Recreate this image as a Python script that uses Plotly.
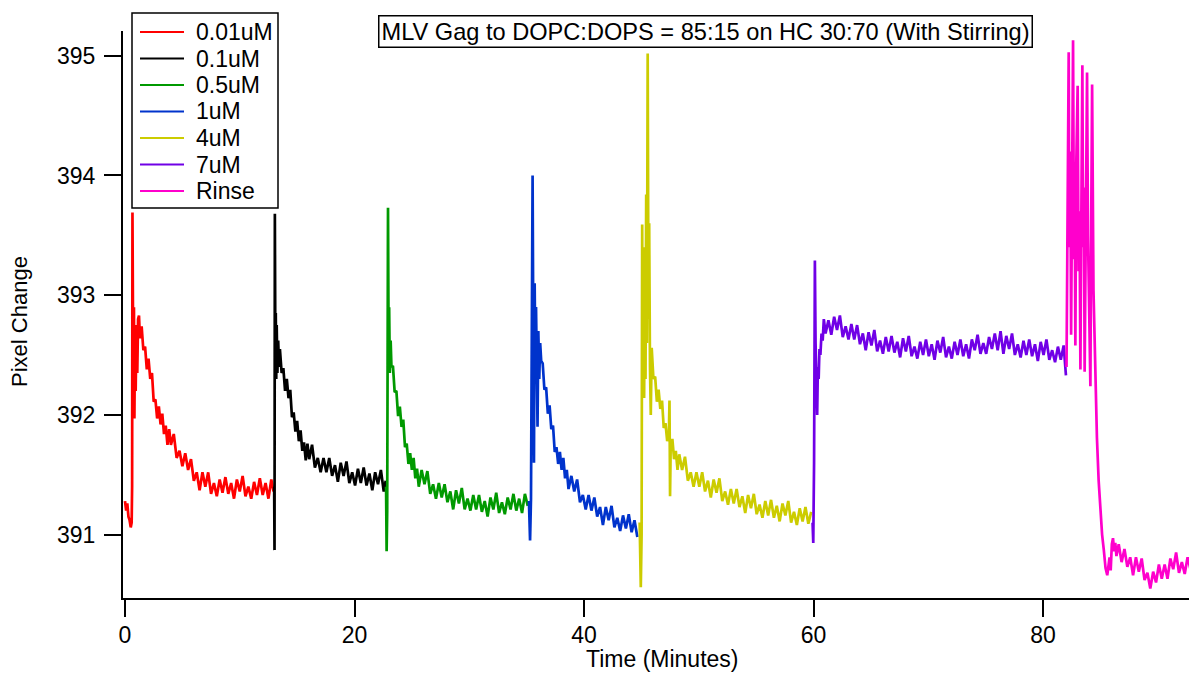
import plotly.graph_objects as go

# ---------------- data ----------------
series_names = ["0.01uM", "0.1uM", "0.5uM", "1uM", "4uM", "7uM", "Rinse"]
series_colors = ["#FF0000", "#000000", "#009900", "#0033CC", "#CCCC00", "#7000E6", "#FF00CC"]
x_ticks = [0, 20, 40, 60, 80]
y_ticks = [391, 392, 393, 394, 395]

t_001 = [0.00, 0.10, 0.20, 0.30, 0.40, 0.50, 0.58, 0.62, 0.65, 0.68, 0.71, 0.74, 0.78, 0.82, 0.87,
         0.93, 1.00, 1.07, 1.14, 1.22, 1.30, 1.45, 1.60, 1.75, 1.90, 2.05, 2.20, 2.35, 2.50, 2.65,
         2.80, 2.95, 3.10, 3.25, 3.40, 3.55, 3.70, 3.85, 4.00, 4.25, 4.50, 4.75, 5.00, 5.25, 5.50,
         5.75, 6.00, 6.25, 6.50, 6.75, 7.00, 7.25, 7.50, 7.75, 8.00, 8.25, 8.50, 8.75, 9.00, 9.25,
         9.50, 9.75, 10.00, 10.25, 10.50, 10.75, 11.00, 11.25, 11.50, 11.75, 12.00, 12.25, 12.50,
         12.75, 12.95]
y_001 = [391.28, 391.20, 391.26, 391.15, 391.12, 391.06, 391.10, 391.40, 393.69, 392.40, 393.30,
         391.98, 392.90, 391.97, 392.70, 392.20, 392.75, 392.35, 392.80, 392.83, 392.64, 392.74,
         392.54, 392.57, 392.38, 392.47, 392.30, 392.35, 392.11, 392.13, 391.97, 392.07, 391.92,
         392.01, 391.84, 391.91, 391.75, 391.88, 391.75, 391.84, 391.64, 391.70, 391.57, 391.68,
         391.54, 391.63, 391.45, 391.52, 391.37, 391.52, 391.40, 391.52, 391.34, 391.43, 391.32,
         391.46, 391.35, 391.48, 391.34, 391.43, 391.30, 391.46, 391.36, 391.49, 391.32, 391.40,
         391.30, 391.44, 391.33, 391.47, 391.33, 391.43, 391.30, 391.46, 391.36]

t_01 = [13.00, 13.03, 13.06, 13.10, 13.14, 13.18, 13.22, 13.28, 13.35, 13.42, 13.50, 13.65, 13.80,
        13.95, 14.10, 14.25, 14.40, 14.55, 14.70, 14.85, 15.00, 15.15, 15.30, 15.45, 15.60, 15.75,
        15.90, 16.05, 16.30, 16.55, 16.80, 17.05, 17.30, 17.55, 17.80, 18.05, 18.30, 18.55, 18.80,
        19.05, 19.30, 19.55, 19.80, 20.05, 20.30, 20.55, 20.80, 21.05, 21.30, 21.55, 21.80, 22.05,
        22.30, 22.55, 22.72]
y_01 = [391.40, 390.87, 393.68, 392.60, 392.85, 392.30, 392.75, 392.35, 392.62, 392.40, 392.55,
        392.35, 392.39, 392.20, 392.30, 392.14, 392.21, 391.98, 392.02, 391.86, 391.95, 391.78,
        391.87, 391.70, 391.77, 391.62, 391.76, 391.63, 391.75, 391.56, 391.64, 391.52, 391.64,
        391.52, 391.64, 391.49, 391.58, 391.44, 391.60, 391.49, 391.61, 391.43, 391.52, 391.41,
        391.55, 391.43, 391.56, 391.41, 391.51, 391.37, 391.52, 391.42, 391.54, 391.36, 391.45]

t_05 = [22.75, 22.80, 22.85, 22.92, 22.97, 23.02, 23.08, 23.15, 23.22, 23.35, 23.50, 23.65, 23.80,
        23.95, 24.10, 24.25, 24.40, 24.55, 24.70, 24.85, 25.00, 25.15, 25.30, 25.45, 25.60, 25.85,
        26.10, 26.35, 26.60, 26.85, 27.10, 27.35, 27.60, 27.85, 28.10, 28.35, 28.60, 28.85, 29.10,
        29.35, 29.60, 29.85, 30.10, 30.35, 30.60, 30.85, 31.10, 31.35, 31.60, 31.85, 32.10, 32.35,
        32.60, 32.85, 33.10, 33.35, 33.60, 33.85, 34.10, 34.35, 34.60, 34.85, 35.10]
y_05 = [391.40, 390.86, 391.20, 393.73, 392.60, 392.90, 392.35, 392.62, 392.40, 392.41, 392.19,
        392.20, 391.99, 392.07, 391.90, 391.96, 391.73, 391.76, 391.59, 391.68, 391.54, 391.64,
        391.47, 391.55, 391.40, 391.54, 391.42, 391.53, 391.34, 391.42, 391.30, 391.43, 391.31,
        391.42, 391.27, 391.36, 391.21, 391.37, 391.26, 391.39, 391.21, 391.30, 391.20, 391.33,
        391.21, 391.33, 391.19, 391.28, 391.15, 391.31, 391.21, 391.35, 391.18, 391.27, 391.17,
        391.31, 391.21, 391.34, 391.20, 391.30, 391.18, 391.34, 391.24]

t_1 = [35.20, 35.30, 35.38, 35.45, 35.52, 35.58, 35.64, 35.70, 35.76, 35.82, 35.88, 35.95, 36.02,
       36.10, 36.18, 36.27, 36.40, 36.55, 36.70, 36.85, 37.00, 37.15, 37.30, 37.45, 37.60, 37.75,
       37.90, 38.05, 38.20, 38.35, 38.50, 38.65, 38.90, 39.15, 39.40, 39.65, 39.90, 40.15, 40.40,
       40.65, 40.90, 41.15, 41.40, 41.65, 41.90, 42.15, 42.40, 42.65, 42.90, 43.15, 43.40, 43.65,
       43.90, 44.15, 44.40, 44.65]
y_1 = [391.28, 390.95, 391.30, 393.40, 394.00, 392.70, 391.60, 393.10, 392.40, 392.90, 392.10,
       391.90, 392.70, 392.30, 392.60, 392.45, 392.43, 392.21, 392.23, 392.01, 392.08, 391.88,
       391.91, 391.69, 391.73, 391.59, 391.69, 391.54, 391.64, 391.47, 391.54, 391.38, 391.49,
       391.36, 391.46, 391.27, 391.33, 391.21, 391.33, 391.20, 391.31, 391.15, 391.23, 391.08,
       391.23, 391.12, 391.24, 391.06, 391.14, 391.03, 391.16, 391.05, 391.17, 391.02, 391.12,
       390.98]

t_4 = [44.85, 44.95, 45.02, 45.07, 45.12, 45.18, 45.24, 45.30, 45.36, 45.42, 45.48, 45.55, 45.62,
       45.68, 45.75, 45.82, 45.90, 46.05, 46.20, 46.35, 46.50, 46.65, 46.80, 46.95, 47.10, 47.25,
       47.40, 47.45, 47.50, 47.55, 47.70, 47.85, 48.00, 48.15, 48.30, 48.55, 48.80, 49.05, 49.30,
       49.55, 49.80, 50.05, 50.30, 50.55, 50.80, 51.05, 51.30, 51.55, 51.80, 52.05, 52.30, 52.55,
       52.80, 53.05, 53.30, 53.55, 53.80, 54.05, 54.30, 54.55, 54.80, 55.05, 55.30, 55.55, 55.80,
       56.05, 56.30, 56.55, 56.80, 57.05, 57.30, 57.55, 57.80, 58.05, 58.30, 58.55, 58.80, 59.05,
       59.30, 59.55, 59.80]
y_4 = [391.10, 390.56, 391.00, 393.59, 392.20, 393.40, 392.14, 393.20, 392.30, 393.84, 392.60,
       395.02, 392.80, 393.60, 392.40, 392.00, 392.56, 392.30, 392.32, 392.11, 392.21, 392.05,
       392.12, 391.89, 391.93, 391.78, 391.86, 392.12, 391.32, 391.71, 391.80, 391.63, 391.70,
       391.54, 391.67, 391.54, 391.65, 391.45, 391.52, 391.40, 391.52, 391.40, 391.52, 391.36,
       391.45, 391.31, 391.46, 391.35, 391.47, 391.28, 391.36, 391.25, 391.38, 391.26, 391.38,
       391.23, 391.32, 391.18, 391.33, 391.22, 391.34, 391.17, 391.25, 391.14, 391.28, 391.16,
       391.29, 391.14, 391.24, 391.11, 391.26, 391.16, 391.28, 391.10, 391.19, 391.08, 391.22,
       391.11, 391.23, 391.09, 391.19]

t_7 = [59.92, 59.98, 60.05, 60.12, 60.18, 60.25, 60.32, 60.38, 60.45, 60.52, 60.60, 60.70, 60.80,
       60.90, 61.05, 61.30, 61.55, 61.80, 62.05, 62.30, 62.55, 62.80, 63.05, 63.30, 63.55, 63.80,
       64.05, 64.30, 64.55, 64.80, 65.05, 65.30, 65.55, 65.80, 66.05, 66.30, 66.55, 66.80, 67.05,
       67.30, 67.55, 67.80, 68.05, 68.30, 68.55, 68.80, 69.05, 69.30, 69.55, 69.80, 70.05, 70.30,
       70.55, 70.80, 71.05, 71.30, 71.55, 71.80, 72.05, 72.30, 72.55, 72.80, 73.05, 73.30, 73.55,
       73.80, 74.05, 74.30, 74.55, 74.80, 75.05, 75.30, 75.55, 75.80, 76.05, 76.30, 76.55, 76.80,
       77.05, 77.30, 77.55, 77.80, 78.05, 78.30, 78.55, 78.80, 79.05, 79.30, 79.55, 79.80, 80.05,
       80.30, 80.55, 80.80, 81.05, 81.30, 81.55, 81.80, 82.00]
y_7 = [391.10, 390.93, 391.60, 393.29, 392.60, 392.30, 392.00, 392.40, 392.30, 392.55, 392.50,
       392.68, 392.62, 392.80, 392.68, 392.79, 392.67, 392.82, 392.71, 392.83, 392.65, 392.74,
       392.63, 392.76, 392.63, 392.75, 392.59, 392.68, 392.54, 392.69, 392.58, 392.71, 392.53,
       392.62, 392.51, 392.65, 392.53, 392.66, 392.52, 392.61, 392.48, 392.64, 392.53, 392.66,
       392.49, 392.57, 392.47, 392.61, 392.50, 392.63, 392.49, 392.59, 392.46, 392.62, 392.52,
       392.65, 392.48, 392.57, 392.47, 392.61, 392.50, 392.63, 392.49, 392.59, 392.47, 392.63,
       392.54, 392.67, 392.51, 392.60, 392.51, 392.65, 392.55, 392.68, 392.54, 392.70, 392.51,
       392.66, 392.55, 392.68, 392.50, 392.59, 392.48, 392.62, 392.50, 392.63, 392.49, 392.59,
       392.45, 392.61, 392.50, 392.63, 392.46, 392.54, 392.44, 392.57, 392.46, 392.58, 392.33]

t_rinse = [82.05, 82.15, 82.24, 82.30, 82.38, 82.45, 82.53, 82.62, 82.70, 82.76, 82.82, 82.90,
           83.02, 83.10, 83.18, 83.26, 83.35, 83.43, 83.50, 83.56, 83.63, 83.72, 83.84, 83.92,
           84.00, 84.13, 84.20, 84.28, 84.40, 84.55, 84.70, 84.85, 85.00, 85.15, 85.30, 85.45,
           85.60, 85.70, 85.80, 85.90, 86.00, 86.10, 86.20, 86.30, 86.40, 86.60, 86.85, 87.10,
           87.35, 87.60, 87.85, 88.10, 88.35, 88.60, 88.85, 89.10, 89.35, 89.60, 89.85, 90.10,
           90.35, 90.60, 90.85, 91.10, 91.35, 91.60, 91.85, 92.10, 92.35, 92.60, 92.85, 93.10,
           93.35, 93.60]
y_rinse = [392.40, 393.60, 395.03, 393.40, 394.20, 392.67, 394.50, 395.13, 393.30, 393.90, 392.58,
           394.10, 394.75, 393.20, 393.70, 392.38, 393.80, 394.92, 393.40, 393.90, 392.36, 393.70,
           394.86, 393.50, 393.10, 392.24, 393.60, 394.76, 393.04, 392.40, 391.81, 391.45, 391.19,
           391.00, 390.87, 390.72, 390.66, 390.75, 390.81, 390.70, 390.92, 390.97, 390.86, 390.93,
           390.82, 390.92, 390.77, 390.88, 390.73, 390.81, 390.66, 390.81, 390.69, 390.80, 390.62,
           390.68, 390.55, 390.69, 390.60, 390.75, 390.63, 390.75, 390.63, 390.80, 390.71, 390.85,
           390.68, 390.77, 390.67, 390.81, 390.71, 390.84, 390.71, 390.81]

title_text = "MLV Gag to DOPC:DOPS = 85:15 on HC 30:70 (With Stirring)"
x_title = "Time (Minutes)"
y_title = "Pixel Change"

# ---------------- figure ----------------
times = [t_001, t_01, t_05, t_1, t_4, t_7, t_rinse]
values = [y_001, y_01, y_05, y_1, y_4, y_7, y_rinse]

FONT = "Arial, 'Liberation Sans', sans-serif"
FS = 23

# page has an 8px body margin on every side: the figure starts at page pixel (8, 8)
OFF = 8
W, H = 1197 - 2 * OFF, 683 - 2 * OFF
ml, mr, mt, mb = 115, 0, 23, 77
pw, ph = W - ml - mr, H - mt - mb

# x scale of the reference: 0 at page x 125, 11.475 px per minute
X_LEFT = (OFF + ml - 125) / 11.475
X_RIGHT = (OFF + W - 125) / 11.475


def page_to_paper(px, py):
    """Convert a page pixel position of the reference to paper coordinates."""
    fx, fy = px - OFF, py - OFF
    return (fx - ml) / pw, (H - mb - fy) / ph


fig = go.Figure()
for name, col, tx, vy in zip(series_names, series_colors, times, values):
    fig.add_trace(go.Scatter(x=tx, y=vy, mode="lines", name=name, showlegend=False,
                             line=dict(color=col, width=2.7)))

fig.update_layout(
    width=W, height=H,
    margin=dict(l=ml, r=mr, t=mt, b=mb, pad=0),
    plot_bgcolor="white", paper_bgcolor="white",
    font=dict(family=FONT, size=FS, color="black"),
    showlegend=False,
)

fig.update_xaxes(range=[X_LEFT, X_RIGHT], tickvals=x_ticks, ticks="outside", ticklen=17,
                 tickwidth=2, tickcolor="black", showline=True, linewidth=2,
                 linecolor="black", showgrid=False, zeroline=False, mirror=False,
                 tickfont=dict(family=FONT, size=FS, color="black"), ticklabelstandoff=-2)
fig.update_yaxes(range=[390.47, 395.207], tickvals=y_ticks, ticks="outside", ticklen=17,
                 tickwidth=2, tickcolor="black", showline=True, linewidth=2,
                 linecolor="black", showgrid=False, zeroline=False, mirror=False,
                 tickfont=dict(family=FONT, size=FS, color="black"), ticklabelstandoff=4)

# title box
tx, ty = page_to_paper(705.5, 31.5)
fig.add_annotation(text=title_text, xref="paper", yref="paper", x=tx, y=ty,
                   xanchor="center", yanchor="middle", showarrow=False,
                   bgcolor="white", bordercolor="black", borderwidth=1.5, borderpad=2,
                   font=dict(family=FONT, size=23.6, color="black"))
# axis titles
ax, ay = page_to_paper(662, 659)
fig.add_annotation(text=x_title, xref="paper", yref="paper", x=ax, y=ay,
                   xanchor="center", yanchor="middle", showarrow=False,
                   font=dict(family=FONT, size=FS, color="black"))
bx, by = page_to_paper(19, 322)
fig.add_annotation(text=y_title, xref="paper", yref="paper", x=bx, y=by,
                   xanchor="center", yanchor="middle", showarrow=False, textangle=-90,
                   font=dict(family=FONT, size=22, color="black"))

# legend box (drawn like the Igor legend)
lx0, ly0 = page_to_paper(132, 13)
lx1, ly1 = page_to_paper(278, 208)
fig.add_shape(type="rect", xref="paper", yref="paper", x0=lx0, y0=ly1, x1=lx1, y1=ly0,
              line=dict(color="black", width=1.5), fillcolor="white", layer="above")
row_y = [32, 58.5, 85, 111.5, 138, 164.5, 191]
for name, col, ry in zip(series_names, series_colors, row_y):
    sx0, sy = page_to_paper(140, ry)
    sx1, _ = page_to_paper(184, ry)
    fig.add_shape(type="line", xref="paper", yref="paper", x0=sx0, x1=sx1, y0=sy, y1=sy,
                  line=dict(color=col, width=2), layer="above")
    tx0, _ = page_to_paper(194, ry)
    fig.add_annotation(text=name, xref="paper", yref="paper", x=tx0, y=sy,
                       xanchor="left", yanchor="middle", showarrow=False,
                       font=dict(family=FONT, size=FS, color="black"))

fig.write_html("out.html")
